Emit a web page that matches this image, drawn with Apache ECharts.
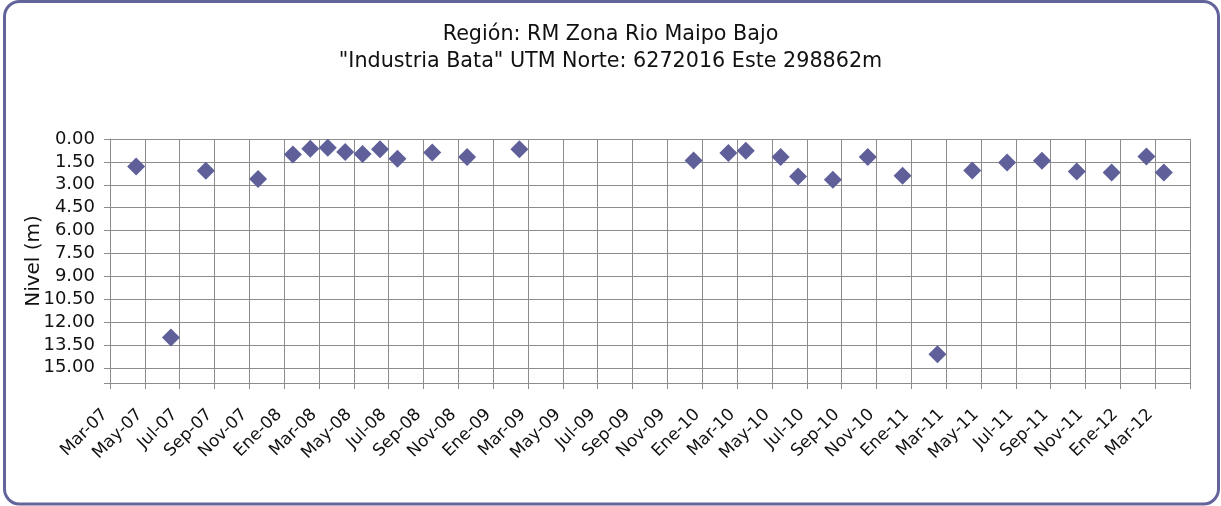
<!DOCTYPE html>
<html>
<head>
<meta charset="utf-8">
<title>Nivel - Industria Bata</title>
<script src="https://cdn.jsdelivr.net/npm/echarts@6/dist/echarts.min.js"></script>
<style>
  html, body { margin: 0; padding: 0; background: #ffffff; }
  #chart { width: 1221px; height: 506px; }
</style>
</head>
<body>
<div id="chart"></div>
<script>
// Axis tick labels, one every two months starting March 2007
const tickLabels = [
  'Mar-07', 'May-07', 'Jul-07', 'Sep-07', 'Nov-07',
  'Ene-08', 'Mar-08', 'May-08', 'Jul-08', 'Sep-08', 'Nov-08',
  'Ene-09', 'Mar-09', 'May-09', 'Jul-09', 'Sep-09', 'Nov-09',
  'Ene-10', 'Mar-10', 'May-10', 'Jul-10', 'Sep-10', 'Nov-10',
  'Ene-11', 'Mar-11', 'May-11', 'Jul-11', 'Sep-11', 'Nov-11',
  'Ene-12', 'Mar-12'
];

// Month of each reading (YYYY-MM)
const measureMonths = [
  '2007-04', '2007-06', '2007-08', '2007-11',
  '2008-01', '2008-02', '2008-03', '2008-04', '2008-05', '2008-06', '2008-07',
  '2008-09', '2008-11', '2009-02',
  '2009-12', '2010-02', '2010-03', '2010-05', '2010-06', '2010-08', '2010-10', '2010-12',
  '2011-02', '2011-04', '2011-06', '2011-08', '2011-10', '2011-12',
  '2012-02', '2012-03'
];

// Water level depth (m)
const nivel = [
  1.80, 13.01, 2.08, 2.63,
  1.01, 0.64, 0.57, 0.85, 0.99, 0.68, 1.29,
  0.88, 1.18, 0.68,
  1.41, 0.92, 0.77, 1.18, 2.46, 2.67, 1.18, 2.41,
  14.11, 2.06, 1.54, 1.43, 2.13, 2.19,
  1.14, 2.19
];

// Chart title lines
const titleLines = [
  'Región: RM Zona Rio Maipo Bajo',
  '"Industria Bata" UTM Norte: 6272016 Este 298862m'
];

const FONT = '"DejaVu Sans", Verdana, sans-serif';
const GRID_COLOR = '#8c8c8c';
const MARK_COLOR = '#5f5f9a';
const BORDER_COLOR = '#64649c';

// The x axis counts months from March 2007; a reading sits in the middle of its month.
function monthOffset(ym) {
  const [y, m] = ym.split('-').map(Number);
  return (y - 2007) * 12 + (m - 3);
}
const points = measureMonths.map((ym, i) => [monthOffset(ym) + 0.5, nivel[i]]);

const chart = echarts.init(document.getElementById('chart'), null, { renderer: 'canvas' });

chart.setOption({
  animation: false,
  backgroundColor: '#ffffff',
  title: titleLines.map((t, i) => ({
    text: t,
    left: 'center',
    top: 24 + i * 27,
    padding: 0,
    textStyle: {
      fontFamily: FONT,
      fontSize: 20.7,
      fontWeight: 'normal',
      color: '#111111'
    }
  })),
  graphic: [{
    type: 'rect',
    silent: true,
    shape: { x: 4.5, y: 1.5, width: 1214, height: 502.5, r: 15 },
    style: { fill: 'none', stroke: BORDER_COLOR, lineWidth: 3 }
  }],
  grid: { left: 110, right: 31, top: 139, bottom: 123 },
  xAxis: {
    type: 'value',
    min: 0,
    max: tickLabels.length * 2,
    interval: 2,
    axisLine: { onZero: false, lineStyle: { color: GRID_COLOR, width: 1 } },
    axisTick: { show: true, length: 6, lineStyle: { color: GRID_COLOR } },
    splitLine: { show: true, lineStyle: { color: GRID_COLOR, width: 1 } },
    axisLabel: {
      rotate: 45,
      margin: 24,
      padding: [0, 7, 0, 0],
      fontFamily: FONT,
      fontSize: 17,
      color: '#111',
      formatter: v => tickLabels[Math.round(v / 2)] || ''
    }
  },
  yAxis: {
    type: 'value',
    inverse: true,
    min: 0,
    max: 16,
    interval: 1.5,
    name: 'Nivel (m)',
    nameLocation: 'middle',
    nameGap: 66,
    nameMoveOverlap: false,
    nameTextStyle: { fontFamily: FONT, fontSize: 20, color: '#111' },
    axisLine: { show: true, onZero: false, lineStyle: { color: GRID_COLOR, width: 1 } },
    axisTick: { show: true, length: 6, lineStyle: { color: GRID_COLOR } },
    splitLine: { show: true, lineStyle: { color: GRID_COLOR, width: 1 } },
    axisLabel: {
      margin: 15,
      fontFamily: FONT,
      fontSize: 18,
      color: '#111',
      formatter: v => (v <= 15 ? v.toFixed(2) : '')
    }
  },
  series: [{
    type: 'scatter',
    data: points,
    symbol: 'diamond',
    symbolSize: 18,
    itemStyle: { color: MARK_COLOR, opacity: 1 },
    clip: false
  }]
});
</script>
</body>
</html>
